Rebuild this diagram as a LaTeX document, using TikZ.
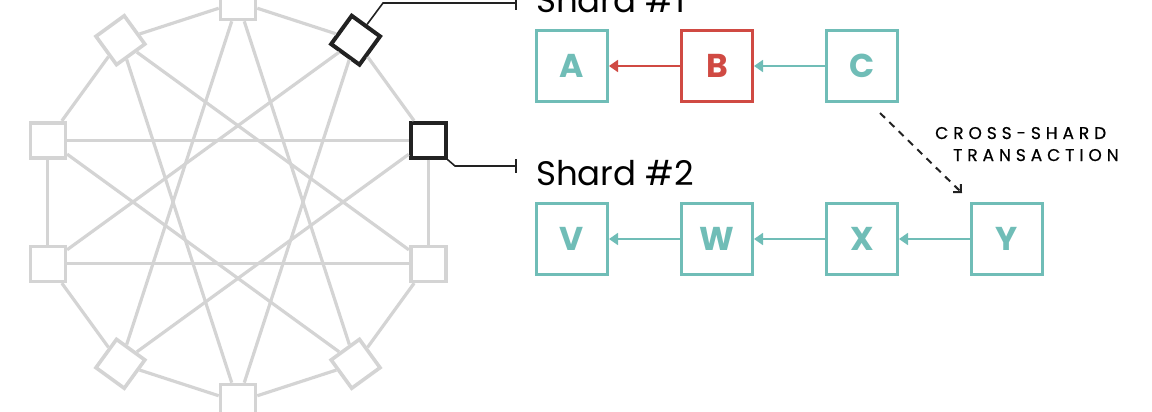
\documentclass[tikz,border=0pt]{standalone}
\usepackage{fontspec}
\setmainfont{Poppins}
\newfontfamily\crossfont[LetterSpace=29,FakeBold=0.6]{Poppins}
\usepackage{tikz}
\usetikzlibrary{arrows.meta}
\definecolor{shardteal}{RGB}{112,189,183}
\definecolor{shardred}{RGB}{208,74,67}
\definecolor{peergray}{RGB}{212,212,212}
\definecolor{inkdark}{RGB}{34,34,34}

\begin{document}
\begin{tikzpicture}[x=1pt,y=1pt]
\tikzstyle{every node}+=[inner sep=0pt]
\tikzstyle{peer}=[draw=peergray,line width=3.6pt,fill=white,minimum size=35pt]
\tikzstyle{peerhi}=[peer,draw=inkdark,line width=4pt]
\tikzstyle{link}=[peergray,line width=3.2pt]
\tikzstyle{block}=[draw=shardteal,line width=3.4pt,minimum size=70.6pt,text=shardteal,font=\fontsize{33}{33}\selectfont\bfseries]
\tikzstyle{badblock}=[block,draw=shardred,text=shardred]
\tikzstyle{chain}=[shardteal,line width=1.8pt,-{Triangle[length=9pt,width=12pt]}]
\tikzstyle{callout}=[inkdark,line width=1.6pt,-{Bar[width=14pt]}]
\useasboundingbox (0,0) rectangle (1152,-412);
\node [peer] (n1) at (238,-2) {};
\node [peerhi,rotate=-36] (n2) at (355.6,-40.2) {};
\node [peerhi] (n3) at (428.2,-140.2) {};
\node [peer] (n4) at (428.2,-263.8) {};
\node [peer,rotate=36] (n5) at (355.6,-363.8) {};
\node [peer] (n6) at (238,-402) {};
\node [peer,rotate=-36] (n7) at (120.4,-363.8) {};
\node [peer] (n8) at (47.8,-263.8) {};
\node [peer] (n9) at (47.8,-140.2) {};
\node [peer,rotate=36] (n10) at (120.4,-40.2) {};
\draw [link] (n1) -- (n2);
\draw [link] (n2) -- (n3);
\draw [link] (n3) -- (n4);
\draw [link] (n4) -- (n5);
\draw [link] (n5) -- (n6);
\draw [link] (n6) -- (n7);
\draw [link] (n7) -- (n8);
\draw [link] (n8) -- (n9);
\draw [link] (n9) -- (n10);
\draw [link] (n10) -- (n1);
\draw [link] (n1) -- (n5);
\draw [link] (n2) -- (n6);
\draw [link] (n3) -- (n7);
\draw [link] (n4) -- (n8);
\draw [link] (n5) -- (n9);
\draw [link] (n6) -- (n10);
\draw [link] (n7) -- (n1);
\draw [link] (n8) -- (n2);
\draw [link] (n9) -- (n3);
\draw [link] (n10) -- (n4);
\coordinate (s1) at (517,-3);
\coordinate (s2) at (517,-166);
\draw [callout] (n2.north) -- ([xshift=-134pt]s1) -- (s1);
\draw [callout] (n3.south east) -- ([xshift=-62pt]s2) -- (s2);
\node [anchor=base west,font=\fontsize{34}{34}\selectfont] (shard1) at (536,-13) {Shard \#1};
\node [anchor=base west,font=\fontsize{34}{34}\selectfont] (shard2) at (536,-185) {Shard \#2};
\node [block] (A) at (572,-66) {A};
\node [badblock] (B) at (717,-66) {B};
\node [block] (C) at (862,-66) {C};
\node [block] (V) at (572,-239) {V};
\node [block] (W) at (717,-239) {W};
\node [block] (X) at (862,-239) {X};
\node [block] (Y) at (1007,-239) {Y};
\draw [chain,shardred] (B) -- (A);
\draw [chain] (C) -- (B);
\draw [chain] (W) -- (V);
\draw [chain] (X) -- (W);
\draw [chain] (Y) -- (X);
\draw [inkdark,line width=2pt,dash pattern=on 7pt off 6pt,-{Straight Barb[length=5.5pt,width=11pt]}] ([xshift=18pt,yshift=-10pt]C.south) -- ([xshift=-8pt,yshift=9pt]Y.north west);
\node [anchor=base west,font=\crossfont\fontsize{17}{17}\selectfont] (cross1) at (935,-139) {CROSS-SHARD};
\node [anchor=base west,font=\crossfont\fontsize{17}{17}\selectfont] (cross2) at (953,-161) {TRANSACTION};
\end{tikzpicture}
\end{document}
